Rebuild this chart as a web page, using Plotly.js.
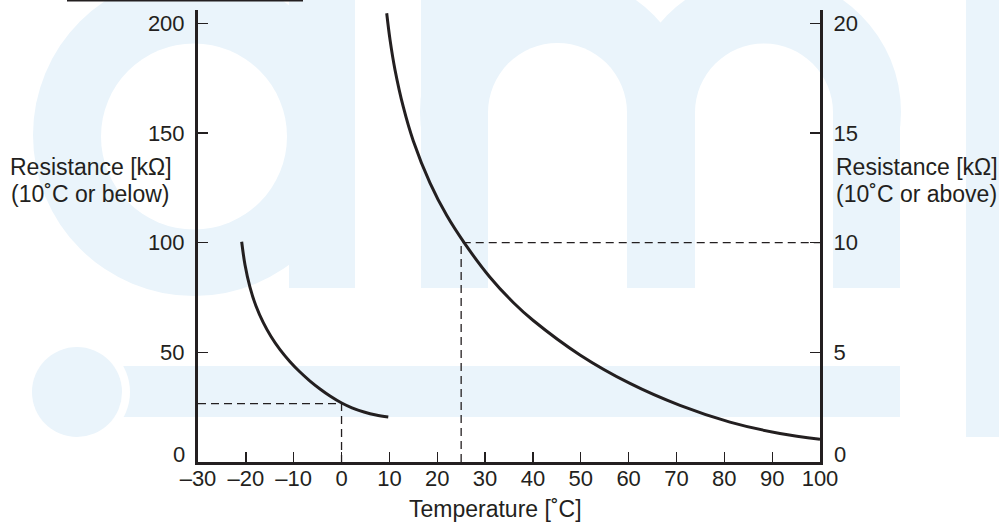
<!DOCTYPE html>
<html>
<head>
<meta charset="utf-8">
<script src="https://cdn.plot.ly/plotly-3.0.1.min.js"></script>
<style>html,body{margin:0;padding:0;background:#fff;}#chart{width:999px;height:524px;}</style>
</head>
<body>
<div id="chart"></div>
<script>
// ---- data ----
const tempTicks = [-30, -20, -10, 0, 10, 20, 30, 40, 50, 60, 70, 80, 90, 100];
const lowTemps = [-20.87, -20.18, -19.13, -17.88, -16.35, -14.74, -12.86, -10.77, -8.68, -6.59, -4.5, -2.41, 0.03, 2.18, 4.69, 7.2, 9.77];
const lowRes   = [100.4, 89.9, 79.6, 71.1, 63.5, 57.2, 51.2, 45.7, 41.0, 36.9, 33.3, 30.1, 26.9, 24.7, 22.8, 21.4, 20.5];   // kΩ, left axis
const highTemps = [9.44, 10.13, 11.17, 12.91, 15.0, 18.48, 21.97, 25.8, 31.02, 35.89, 40.07, 49.83, 60.28, 70.73, 81.18, 91.63, 100];
const highRes   = [20.45, 19.25, 17.88, 16.18, 14.63, 12.72, 11.24, 9.94, 8.42, 7.27, 6.45, 4.88, 3.58, 2.58, 1.82, 1.30, 1.04]; // kΩ, right axis
const refLowX = [-30, 0, 0];
const refLowY = [26.6, 26.6, 0];
const refHighX = [25, 25, 100];
const refHighY = [0, 10, 10];
const leftTicks = [0, 50, 100, 150, 200];
const rightTicks = [0, 5, 10, 15, 20];
const leftTitle = ['Resistance [kΩ]', '(10˚C or below)'];
const rightTitle = ['Resistance [kΩ]', '(10˚C or above)'];
const xTitle = 'Temperature [˚C]';

// ---- layout helpers (pixel -> paper) ----
const W = 999, H = 524;
const M = {l: 198, r: 179, t: 10, b: 62};
const PW = W - M.l - M.r, PH = H - M.t - M.b;
const P = x => (x - M.l) / PW;
const Q = y => (H - M.b - y) / PH;

const ink = '#231f20';
const wm = '#eaf4fb';
const font = '"Liberation Sans", Arial, Helvetica, sans-serif';

function rect(x0, y0, x1, y1, c) {
  return {type: 'rect', xref: 'paper', yref: 'paper', x0: P(x0), x1: P(x1), y0: Q(y1), y1: Q(y0),
    fillcolor: c, line: {width: 0}, layer: 'below'};
}
function disc(cx, cy, r, c) {
  return {type: 'circle', xref: 'paper', yref: 'paper', x0: P(cx - r), x1: P(cx + r), y0: Q(cy + r), y1: Q(cy - r),
    fillcolor: c, line: {width: 0}, layer: 'below'};
}

const shapes = [
  // watermark "a"
  disc(194, 135, 161, wm),
  disc(194, 136.5, 93, '#ffffff'),
  rect(289, -30, 355, 288, wm),
  // watermark "m"
  disc(557, 112, 137, wm),
  disc(764, 112, 137, wm),
  disc(557.5, 112.5, 69.5, '#ffffff'),
  rect(488, 112, 627, 300, '#ffffff'),
  disc(764, 112.5, 69, '#ffffff'),
  rect(695, 112, 833, 300, '#ffffff'),
  rect(421, -30, 488, 288, wm),
  rect(627, 100, 695, 288, wm),
  rect(833, 100, 900, 288, wm),
  // "i" stem
  rect(966, -10, 1010, 437, wm),
  // band and dot
  rect(110, 366, 900, 417, wm),
  disc(77, 392, 53, '#ffffff'),
  disc(77, 392, 45, wm),
  // top-left rule
  {type: 'line', xref: 'paper', yref: 'paper', x0: P(67), x1: P(303), y0: Q(0.5), y1: Q(0.5),
    line: {color: ink, width: 2}, layer: 'above'}
];

const curveLine = {color: ink, width: 3, shape: 'spline', smoothing: 1};
const dashLine = {color: ink, width: 1.3, dash: '8px,5px'};

const traces = [
  {x: lowTemps, y: lowRes, yaxis: 'y', mode: 'lines', line: curveLine, hoverinfo: 'skip'},
  {x: highTemps, y: highRes, yaxis: 'y2', mode: 'lines', line: curveLine, hoverinfo: 'skip'},
  {x: refLowX, y: refLowY, yaxis: 'y', mode: 'lines', line: dashLine, hoverinfo: 'skip'},
  {x: refHighX, y: refHighY, yaxis: 'y2', mode: 'lines', line: dashLine, hoverinfo: 'skip'}
];

const axisCommon = {
  showline: true, linecolor: ink, linewidth: 3, zeroline: false, showgrid: false,
  ticks: 'inside', ticklen: 10, tickwidth: 1.3, tickcolor: ink,
  tickfont: {family: font, size: 22, color: ink}, fixedrange: true
};

const tf = {family: font, size: 23, color: ink};
const tkf = {family: font, size: 22, color: ink};
function label(text, x, y, xanchor, f) {
  return {xref: 'paper', yref: 'paper', x: P(x), y: Q(y), xanchor: xanchor, yanchor: 'middle',
    showarrow: false, text: text, font: f || tf, borderpad: 0};
}
// the "0" labels of both resistance axes sit a little above their tick in the reference
const tickText = arr => arr.map(v => v === 0 ? '' : String(v));

const layout = {
  width: W, height: H, margin: M,
  paper_bgcolor: '#ffffff', plot_bgcolor: 'rgba(0,0,0,0)',
  showlegend: false, hovermode: false,
  font: {family: font, color: ink},
  xaxis: Object.assign({}, axisCommon, {range: [-30, 100], tickvals: tempTicks,
    ticktext: tempTicks.map(v => v < 0 ? '\u2013' + Math.abs(v) : String(v)), ticklabelstandoff: -5}),
  yaxis: Object.assign({}, axisCommon, {range: [0, 206], tickvals: leftTicks, ticktext: tickText(leftTicks), ticklabelstandoff: 6}),
  yaxis2: Object.assign({}, axisCommon, {range: [0, 20.6], tickvals: rightTicks, ticktext: tickText(rightTicks), overlaying: 'y', side: 'right', ticklabelstandoff: 6}),
  shapes: shapes,
  annotations: [
    label(String(leftTicks[0]), 186, 454, 'right', tkf),
    label(String(rightTicks[0]), 833, 454, 'left', tkf),
    label(leftTitle[0], 90.5, 167.5, 'center'),
    label(leftTitle[1], 90.5, 193.5, 'center'),
    label(rightTitle[0], 835, 167.5, 'left'),
    label(rightTitle[1], 835, 193.5, 'left'),
    label(xTitle, 495, 509, 'center')
  ]
};

Plotly.newPlot('chart', traces, layout, {staticPlot: true, displayModeBar: false});
</script>
</body>
</html>
